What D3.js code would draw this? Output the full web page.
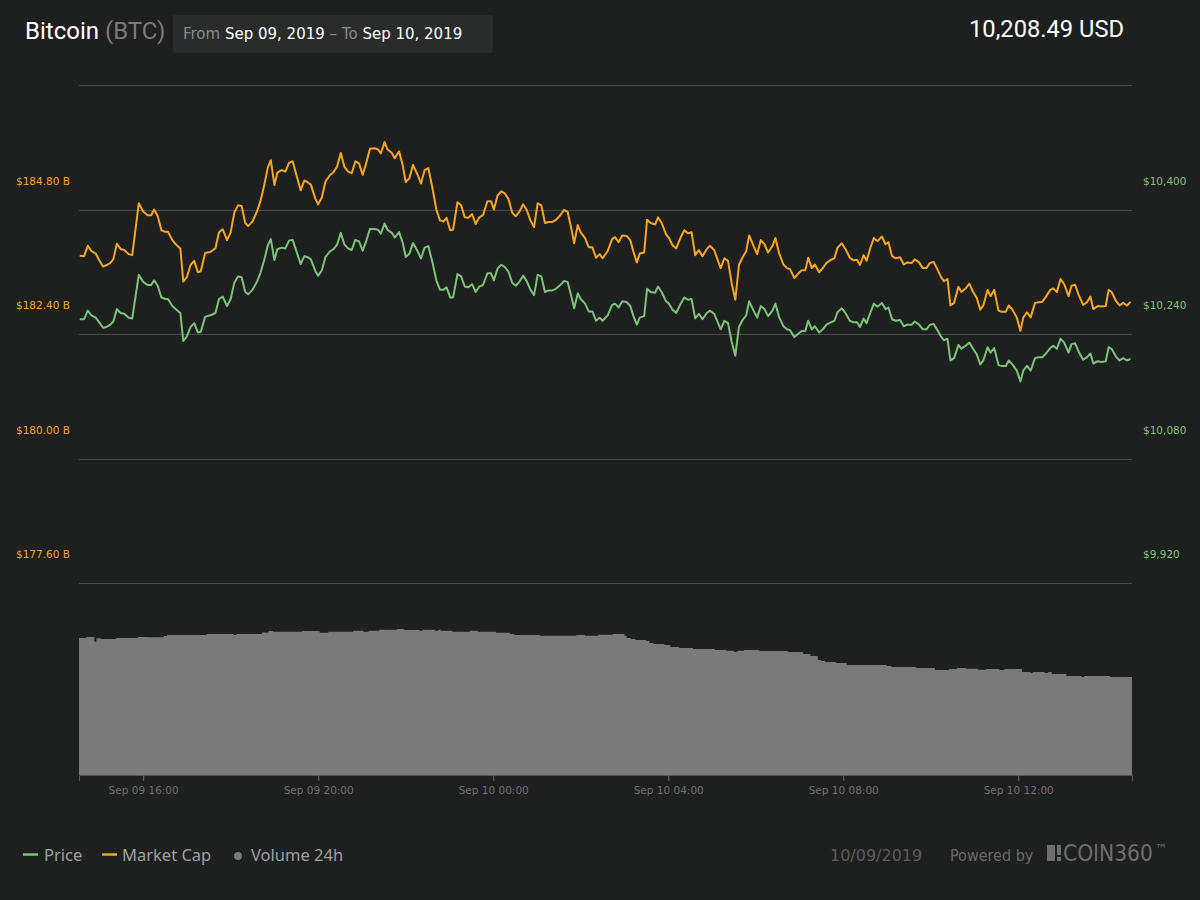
<!DOCTYPE html>
<meta charset="utf-8">
<title>Bitcoin (BTC)</title>
<style>
    body {
        margin: 0;
        background: #1e1f1f;
    }

    svg {
        display: block;
    }

    .grid {
        stroke: #484848;
        stroke-width: 1px;
    }

    .tick-label {
        font-family: "DejaVu Sans", sans-serif;
        font-size: 10.5px;
    }

    .legend {
        font-family: "Noto Sans", sans-serif;
        font-size: 16.5px;
    }
</style>

<body>
    <svg id="chart"></svg>
</body>

<script src="https://cdn.jsdelivr.net/npm/d3@7/dist/d3.min.js"></script>
<script>
    // minutes after Sep 09 2019 14:32 for each price / market cap sample
    const minutes = [
        1, 7, 12, 17, 23, 27, 33, 38, 43, 47, 52, 57, 62, 68, 73, 82, 88, 94, 99, 103,
        108, 113, 118, 122, 128, 134, 139, 143, 148, 153, 158, 163, 167, 173, 180, 187, 192, 197, 203, 208,
        213, 218, 223, 228, 232, 238, 244, 249, 254, 259, 263, 268, 272, 278, 283, 288, 293, 299, 304, 309,
        313, 318, 324, 328, 333, 338, 344, 349, 354,
        359, 364, 369, 374, 379, 384, 389, 393, 399, 405, 410, 414, 419, 423, 429, 433, 439, 444, 448, 453,
        458, 464, 469, 474, 479, 485, 490, 495, 500, 504, 509, 513, 519, 524, 529, 534, 539, 544, 549, 554,
        560, 565, 569, 574, 579, 584, 589, 594, 599, 604, 609, 614, 619, 624, 629, 634, 639, 644, 649, 654,
        660, 665, 670, 675, 679, 684, 688, 694, 699, 704, 709, 714, 718,
        725, 731, 735, 740, 745, 751, 756, 760, 765, 769, 775, 779, 784, 790, 794, 799, 805, 809, 814, 819,
        824, 830, 835, 840, 845, 850, 855, 861, 865, 871, 876, 880, 885, 890, 895, 900, 905, 910, 915, 919,
        925, 930, 935, 940, 945, 951, 955, 960, 966, 971, 975, 981, 986, 991, 996, 1000, 1005, 1009, 1015, 1020,
        1025, 1031, 1036, 1040, 1046, 1051, 1057, 1062, 1067, 1071, 1076,
        1080, 1085, 1090, 1095, 1101, 1106, 1110, 1115, 1120, 1126, 1131, 1136, 1142, 1146, 1152, 1157, 1162, 1167, 1172, 1177,
        1182, 1186, 1191, 1195, 1200, 1206, 1210, 1216, 1221, 1226, 1231, 1236, 1240, 1246, 1250, 1255, 1261, 1265, 1271, 1275,
        1280, 1286, 1291, 1295, 1300, 1305, 1311, 1316, 1321, 1326, 1332, 1336, 1341, 1346, 1351, 1357, 1361, 1366, 1371, 1377,
        1382, 1387, 1391, 1397, 1402, 1408, 1412, 1416, 1422, 1427, 1432, 1437, 1442
    ];

    // USD
    const price = [
        10259, 10259, 10270, 10264, 10261, 10256, 10248, 10249, 10252, 10256, 10272, 10267, 10266, 10261, 10260, 10316, 10307, 10303, 10303, 10309,
        10302, 10287, 10285, 10285, 10276, 10271, 10267, 10231, 10237, 10249, 10254, 10242, 10243, 10262, 10264, 10267, 10285, 10288, 10276, 10285,
        10306, 10314, 10313, 10294, 10291, 10297, 10307, 10319, 10335, 10354, 10362, 10335, 10349, 10351, 10350, 10360, 10361, 10344, 10330, 10340,
        10339, 10336, 10321, 10315, 10322, 10339, 10346, 10349, 10355,
        10370, 10355, 10350, 10348, 10361, 10359, 10347, 10357, 10375, 10375, 10374, 10369, 10382, 10374, 10370, 10364, 10371, 10357, 10339, 10343,
        10357, 10347, 10337, 10351, 10353, 10331, 10309, 10297, 10297, 10300, 10287, 10287, 10317, 10314, 10301, 10300, 10304, 10294, 10301, 10303,
        10318, 10318, 10309, 10324, 10329, 10326, 10320, 10306, 10302, 10307, 10315, 10308, 10297, 10290, 10316, 10314, 10294, 10296, 10296, 10298,
        10303, 10308, 10307, 10289, 10273, 10292, 10285, 10279, 10269, 10269, 10257, 10261, 10257,
        10264, 10277, 10279, 10274, 10282, 10281, 10276, 10264, 10252, 10261, 10263, 10298, 10294, 10293, 10301, 10294, 10282, 10279, 10271, 10267,
        10277, 10287, 10284, 10285, 10260, 10266, 10259, 10267, 10270, 10266, 10255, 10246, 10257, 10254, 10230, 10212, 10249, 10258, 10264, 10282,
        10270, 10261, 10276, 10272, 10263, 10270, 10279, 10262, 10250, 10246, 10245, 10236, 10240, 10244, 10244, 10257, 10246, 10250, 10242, 10246,
        10252, 10255, 10257, 10268, 10273, 10267, 10257, 10255, 10255, 10249, 10260,
        10254, 10267, 10279, 10275, 10280, 10272, 10274, 10259, 10257, 10258, 10250, 10252, 10252, 10256, 10252, 10246, 10246, 10252, 10253, 10245,
        10237, 10232, 10234, 10206, 10209, 10226, 10221, 10225, 10229, 10221, 10214, 10201, 10206, 10223, 10216, 10222, 10200, 10199, 10199, 10206,
        10201, 10193, 10179, 10193, 10199, 10193, 10209, 10210, 10210, 10215, 10222, 10225, 10221, 10234, 10229, 10216, 10227, 10228, 10217, 10207,
        10210, 10215, 10202, 10205, 10204, 10205, 10223, 10221, 10211, 10206, 10209, 10206, 10208
    ];

    // billions USD
    const marketCap = [
        183.91, 183.90, 184.10, 184.00, 183.95, 183.84, 183.70, 183.73, 183.77, 183.84, 184.14, 184.04, 184.02, 183.94, 183.92, 184.92, 184.76, 184.69, 184.69, 184.80,
        184.67, 184.40, 184.37, 184.37, 184.21, 184.11, 184.05, 183.41, 183.50, 183.73, 183.81, 183.59, 183.61, 183.96, 183.98, 184.05, 184.36, 184.42, 184.21, 184.36,
        184.74, 184.88, 184.87, 184.54, 184.48, 184.57, 184.76, 184.97, 185.27, 185.61, 185.75, 185.27, 185.51, 185.56, 185.53, 185.70, 185.73, 185.42, 185.17, 185.36,
        185.33, 185.28, 185.01, 184.90, 185.03, 185.34, 185.46, 185.52, 185.63,
        185.89, 185.62, 185.53, 185.50, 185.73, 185.69, 185.47, 185.65, 185.97, 185.98, 185.96, 185.88, 186.10, 185.96, 185.89, 185.79, 185.92, 185.65, 185.33, 185.40,
        185.66, 185.48, 185.30, 185.56, 185.60, 185.19, 184.80, 184.59, 184.57, 184.64, 184.40, 184.41, 184.94, 184.88, 184.65, 184.64, 184.71, 184.52, 184.65, 184.69,
        184.96, 184.96, 184.80, 185.07, 185.15, 185.11, 185.00, 184.74, 184.67, 184.76, 184.90, 184.79, 184.59, 184.46, 184.92, 184.88, 184.54, 184.56, 184.56, 184.60,
        184.69, 184.79, 184.76, 184.44, 184.15, 184.50, 184.36, 184.25, 184.07, 184.07, 183.87, 183.94, 183.86,
        184.00, 184.23, 184.27, 184.17, 184.30, 184.29, 184.21, 184.00, 183.78, 183.95, 183.97, 184.60, 184.54, 184.51, 184.65, 184.54, 184.32, 184.25, 184.11, 184.05,
        184.23, 184.40, 184.34, 184.36, 183.92, 184.02, 183.90, 184.04, 184.10, 184.02, 183.82, 183.67, 183.86, 183.81, 183.38, 183.06, 183.73, 183.88, 184.00, 184.30,
        184.10, 183.94, 184.21, 184.13, 183.97, 184.10, 184.25, 183.96, 183.74, 183.67, 183.65, 183.48, 183.56, 183.63, 183.63, 183.87, 183.67, 183.74, 183.59, 183.67,
        183.77, 183.83, 183.86, 184.06, 184.15, 184.04, 183.87, 183.82, 183.83, 183.73, 183.92,
        183.81, 184.05, 184.25, 184.19, 184.28, 184.13, 184.17, 183.90, 183.86, 183.88, 183.74, 183.78, 183.77, 183.84, 183.78, 183.67, 183.67, 183.77, 183.79, 183.65,
        183.50, 183.42, 183.46, 182.95, 183.00, 183.31, 183.21, 183.28, 183.37, 183.21, 183.10, 182.87, 182.95, 183.25, 183.13, 183.25, 182.85, 182.83, 182.83, 182.95,
        182.87, 182.72, 182.46, 182.72, 182.82, 182.72, 183.00, 183.01, 183.02, 183.12, 183.25, 183.28, 183.21, 183.46, 183.36, 183.13, 183.33, 183.35, 183.15, 182.96,
        183.01, 183.12, 182.88, 182.94, 182.93, 182.94, 183.25, 183.21, 183.04, 182.95, 183.00, 182.95, 183.02
    ];

    // 24h volume, billions USD, held from each minute mark until the next
    const volMinutes = [
        0, 10, 21, 24, 30, 51, 81, 94, 116, 121, 175, 212, 216, 251, 260, 266, 306, 330, 342, 376,
        390, 397, 412, 436, 446, 467, 471, 488, 493, 496, 512, 536, 547, 572, 591, 597, 632, 682, 694, 712,
        732, 748, 751, 757, 763, 778, 782, 788, 803, 811, 823, 842, 872, 888, 898, 903, 912, 933, 972, 993,
        1003, 1013, 1018, 1023, 1038, 1053, 1108, 1114, 1148, 1174, 1193, 1204, 1217, 1233, 1244, 1262, 1269, 1293, 1305, 1308,
        1324, 1329, 1334, 1354, 1375, 1378, 1414
    ];
    const volume = [
        15.66, 15.77, 15.24, 15.62, 15.54, 15.66, 15.77, 15.73, 15.89, 16.00, 16.11, 16.00, 16.11, 16.30, 16.46, 16.38, 16.46, 16.27, 16.38, 16.50,
        16.38, 16.50, 16.61, 16.69, 16.57, 16.50, 16.61, 16.50, 16.61, 16.50, 16.38, 16.50, 16.38, 16.27, 16.11, 16.00, 15.92, 16.00, 15.92, 16.02,
        16.11, 15.92, 15.66, 15.54, 15.43, 15.31, 15.09, 14.97, 14.86, 14.63, 14.51, 14.40, 14.29, 14.21, 14.10, 14.21, 14.29, 14.17, 14.06, 13.83,
        13.60, 13.14, 13.03, 12.91, 12.80, 12.57, 12.46, 12.34, 12.23, 12.00, 12.11, 12.23, 12.15, 12.04, 12.11, 12.00, 12.11, 11.77, 11.66, 11.77,
        11.66, 11.77, 11.54, 11.31, 11.20, 11.31, 11.20
    ];

    const priceTicks = [9920, 10080, 10240, 10400, 10560];
    const mcapTicks = [177.6, 180.0, 182.4, 184.8, 187.2];

    const startTime = new Date(2019, 8, 9, 14, 32);
    const endMinute = 1444;

    const width = 1200, height = 900;
    const plot = { left: 79, right: 1132, top: 85, priceBottom: 583, volBottom: 775 };

    const green = "#7dc47a";
    const orange = "#f5a623";

    const svg = d3.select("#chart")
        .attr("width", width)
        .attr("height", height);

    svg.append("rect")
        .attr("width", width)
        .attr("height", height)
        .attr("fill", "#1e1f1f");

    const toDate = m => new Date(startTime.getTime() + m * 60000);

    const x = d3.scaleTime()
        .domain([startTime, toDate(endMinute)])
        .range([plot.left, plot.right]);

    const yPrice = d3.scaleLinear()
        .domain([priceTicks[0], priceTicks[priceTicks.length - 1]])
        .range([plot.priceBottom, plot.top]);

    const yMcap = d3.scaleLinear()
        .domain([mcapTicks[0], mcapTicks[mcapTicks.length - 1]])
        .range([plot.priceBottom, plot.top]);

    const yVol = d3.scaleLinear()
        .domain([0, 20])
        .range([plot.volBottom, 600]);

    // grid lines
    svg.append("g")
        .selectAll("line")
        .data(priceTicks)
        .join("line")
        .attr("class", "grid")
        .attr("x1", plot.left)
        .attr("x2", plot.right)
        .attr("y1", d => Math.round(yPrice(d)) + 0.5)
        .attr("y2", d => Math.round(yPrice(d)) + 0.5);

    // left labels (market cap), drawn above their grid line
    svg.append("g")
        .selectAll("text")
        .data(mcapTicks.slice(0, -1))
        .join("text")
        .attr("class", "tick-label")
        .attr("x", 16)
        .attr("y", d => yMcap(d) - 25)
        .attr("fill", orange)
        .text(d => "$" + d3.format(".2f")(d) + " B");

    // right labels (price)
    svg.append("g")
        .selectAll("text")
        .data(priceTicks.slice(0, -1))
        .join("text")
        .attr("class", "tick-label")
        .attr("x", 1143)
        .attr("y", d => yPrice(d) - 25)
        .attr("fill", green)
        .text(d => d3.format("$,")(d));

    // volume
    const volData = volMinutes.map((m, i) => ({ t: toDate(m), v: volume[i] }));
    volData.push({ t: toDate(endMinute), v: volume[volume.length - 1] });

    svg.append("path")
        .datum(volData)
        .attr("fill", "#7a7a7a")
        .attr("d", d3.area()
            .curve(d3.curveStepAfter)
            .x(d => x(d.t))
            .y0(plot.volBottom)
            .y1(d => yVol(d.v)));

    // x axis
    const xAxis = svg.append("g")
        .attr("transform", `translate(0,${plot.volBottom})`)
        .call(d3.axisBottom(x)
            .ticks(d3.timeHour.every(4))
            .tickFormat(d3.timeFormat("%b %d %H:%M"))
            .tickSize(6)
            .tickPadding(5.5));
    xAxis.select(".domain").attr("stroke", "#555");
    xAxis.selectAll(".tick line").attr("stroke", "#666");
    xAxis.selectAll(".tick text")
        .attr("class", "tick-label")
        .attr("fill", "#707070");

    // lines
    const series = minutes.map((m, i) => ({ t: toDate(m), p: price[i], mc: marketCap[i] }));

    svg.append("path")
        .datum(series)
        .attr("fill", "none")
        .attr("stroke", orange)
        .attr("stroke-width", 2)
        .attr("stroke-linejoin", "round")
        .attr("d", d3.line().x(d => x(d.t)).y(d => yMcap(d.mc)));

    svg.append("path")
        .datum(series)
        .attr("fill", "none")
        .attr("stroke", green)
        .attr("stroke-width", 2)
        .attr("stroke-linejoin", "round")
        .attr("d", d3.line().x(d => x(d.t)).y(d => yPrice(d.p)));

    // header
    const title = svg.append("text")
        .attr("x", 25)
        .attr("y", 39)
        .attr("font-family", "Roboto, sans-serif")
        .attr("font-size", 24);
    title.append("tspan").attr("fill", "#ffffff").text("Bitcoin ");
    title.append("tspan").attr("fill", "#7a7a7a").text("(BTC)");

    svg.append("rect")
        .attr("x", 173)
        .attr("y", 15)
        .attr("width", 320)
        .attr("height", 38)
        .attr("rx", 2)
        .attr("fill", "#2a2b2b");

    const range = svg.append("text")
        .attr("x", 183)
        .attr("y", 39)
        .attr("font-family", "\"DejaVu Sans\", sans-serif")
        .attr("font-size", 15);
    range.append("tspan").attr("fill", "#8a8a8a").text("From ");
    range.append("tspan").attr("fill", "#ffffff").text("Sep 09, 2019");
    range.append("tspan").attr("fill", "#8a8a8a").text(" – To ");
    range.append("tspan").attr("fill", "#ffffff").text("Sep 10, 2019");

    svg.append("text")
        .attr("x", 1124)
        .attr("y", 37)
        .attr("text-anchor", "end")
        .attr("font-family", "Roboto, sans-serif")
        .attr("font-size", 23.7)
        .attr("fill", "#ffffff")
        .text("10,208.49 USD");

    // legend
    const legend = svg.append("g").attr("class", "legend");
    legend.append("line")
        .attr("x1", 23).attr("x2", 38).attr("y1", 854.5).attr("y2", 854.5)
        .attr("stroke", green).attr("stroke-width", 2.5);
    legend.append("text").attr("x", 44).attr("y", 861).attr("fill", "#a0a0a0").text("Price");
    legend.append("line")
        .attr("x1", 102).attr("x2", 117).attr("y1", 854.5).attr("y2", 854.5)
        .attr("stroke", orange).attr("stroke-width", 2.5);
    legend.append("text").attr("x", 122).attr("y", 861).attr("fill", "#a0a0a0").text("Market Cap");
    legend.append("circle")
        .attr("cx", 238).attr("cy", 856).attr("r", 4)
        .attr("fill", "#7a7a7a");
    legend.append("text").attr("x", 251).attr("y", 861).attr("fill", "#a0a0a0").text("Volume 24h");

    svg.append("text")
        .attr("x", 830).attr("y", 861)
        .attr("font-family", "\"DejaVu Sans\", sans-serif")
        .attr("font-size", 16)
        .attr("fill", "#5c5c5c")
        .text("10/09/2019");
    svg.append("text")
        .attr("x", 950).attr("y", 861)
        .attr("font-family", "\"DejaVu Sans\", sans-serif")
        .attr("font-stretch", "condensed")
        .attr("font-size", 16)
        .attr("fill", "#6a6a6a")
        .text("Powered by");

    // COIN360 mark
    const logo = svg.append("g").attr("fill", "#6e6e6e");
    logo.append("rect").attr("x", 1047).attr("y", 845).attr("width", 8).attr("height", 16);
    logo.append("rect").attr("x", 1057).attr("y", 845).attr("width", 4).attr("height", 10);
    logo.append("rect").attr("x", 1057).attr("y", 857).attr("width", 4).attr("height", 4);
    logo.append("text")
        .attr("x", 1063)
        .attr("y", 861)
        .attr("font-family", "\"DejaVu Sans\", sans-serif")
        .attr("font-stretch", "condensed")
        .attr("font-size", 22.5)
        .text("COIN360");
    logo.append("text")
        .attr("x", 1155)
        .attr("y", 853)
        .attr("font-family", "\"DejaVu Sans\", sans-serif")
        .attr("font-size", 12)
        .text("™");
</script>
